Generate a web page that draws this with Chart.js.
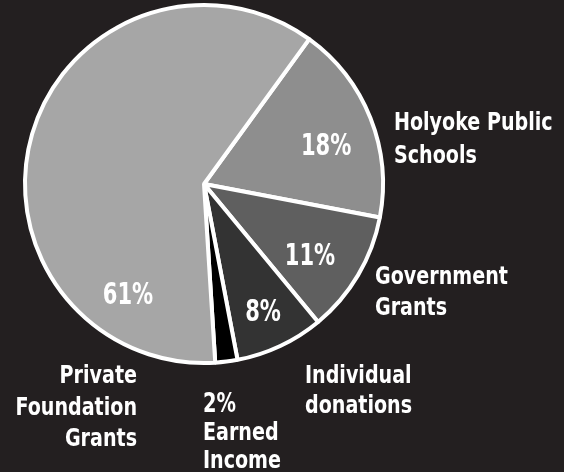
<!DOCTYPE html>
<html>
<head>
<meta charset="utf-8">
<script src="https://cdn.jsdelivr.net/npm/chart.js@4"></script>
<style>
  html, body { margin: 0; padding: 0; background: #231f20; }
  #wrap { width: 564px; height: 472px; }
</style>
</head>
<body>
<div id="wrap"><canvas id="fundingChart"></canvas></div>
<script>
const categories = ['Holyoke Public Schools', 'Government Grants', 'Individual donations', 'Earned Income', 'Private Foundation Grants'];
const shares = [18, 11, 8, 2, 61];
const sliceColors = ['#8e8e8e', '#5f5f5f', '#333333', '#000000', '#a6a6a6'];

// label lines for each category (text outside the pie)
const nameLines = [
    ['Holyoke Public', 'Schools'],
    ['Government', 'Grants'],
    ['Individual', 'donations'],
    ['Earned', 'Income'],
    ['Private', 'Foundation', 'Grants']
];

const FONT = "'DejaVu Sans Condensed', 'DejaVu Sans', sans-serif";

// where text goes, relative to pie centre in units of radius (baselines)
const placement = [
    { pct: { dx: 0.682, dy: -0.162 }, name: { dx: 1.061, dy: -0.302, align: 'left', lh: 33 } },
    { pct: { dx: 0.592, dy: 0.4525 }, name: { dx: 0.955, dy: 0.559, align: 'left', lh: 31 } },
    { pct: { dx: 0.330, dy: 0.765 },  name: { dx: 0.564, dy: 1.112, align: 'left', lh: 30 } },
    { pct: null,                      name: { dx: -0.006, dy: 1.274, align: 'left', lh: 28, pctFirst: true } },
    { pct: { dx: -0.425, dy: 0.670 }, name: { dx: -0.374, dy: 1.112, align: 'right', lh: 31.5 } }
];

function squeezedText(ctx, text, x, y, sx) {
    ctx.save();
    ctx.translate(x, y);
    ctx.scale(sx, 1);
    ctx.fillText(text, 0, 0);
    ctx.restore();
}

const pieLabels = {
    id: 'pieLabels',
    afterDatasetsDraw(chart) {
        const ctx = chart.ctx;
        const meta = chart.getDatasetMeta(0);
        ctx.save();
        ctx.fillStyle = '#ffffff';
        ctx.textBaseline = 'alphabetic';
        meta.data.forEach((arc, i) => {
            const p = arc.getProps(['x', 'y', 'outerRadius'], true);
            const R = p.outerRadius;
            const pl = placement[i];
            const pctText = shares[i] + '%';
            if (pl.pct) {
                ctx.font = "bold 30px " + FONT;
                ctx.textAlign = 'center';
                squeezedText(ctx, pctText, p.x + pl.pct.dx * R, p.y + pl.pct.dy * R, 0.78);
            }
            const n = pl.name;
            const x = p.x + n.dx * R;
            let y = p.y + n.dy * R;
            ctx.textAlign = n.align;
            if (n.pctFirst) {
                ctx.font = "bold 27px " + FONT;
                squeezedText(ctx, pctText, x, y, 0.8);
                y += n.lh;
            }
            ctx.font = "bold 25px " + FONT;
            nameLines[i].forEach((line, k) => squeezedText(ctx, line, x, y + k * n.lh, 0.85));
        });
        ctx.restore();
    }
};

const data = {
    labels: categories,
    datasets: [{
        data: shares,
        backgroundColor: sliceColors,
        borderColor: '#ffffff',
        borderWidth: 4
    }]
};

const config = {
    type: 'pie',
    data: data,
    options: {
        responsive: true,
        maintainAspectRatio: false,
        animation: false,
        rotation: 36,
        layout: { padding: { left: 22, right: 178, top: 3, bottom: 107 } },
        plugins: {
            legend: { display: false },
            tooltip: { enabled: false }
        }
    },
    plugins: [pieLabels]
};

const ctx = document.getElementById('fundingChart').getContext('2d');
const fundingChart = new Chart(ctx, config);
</script>
</body>
</html>
